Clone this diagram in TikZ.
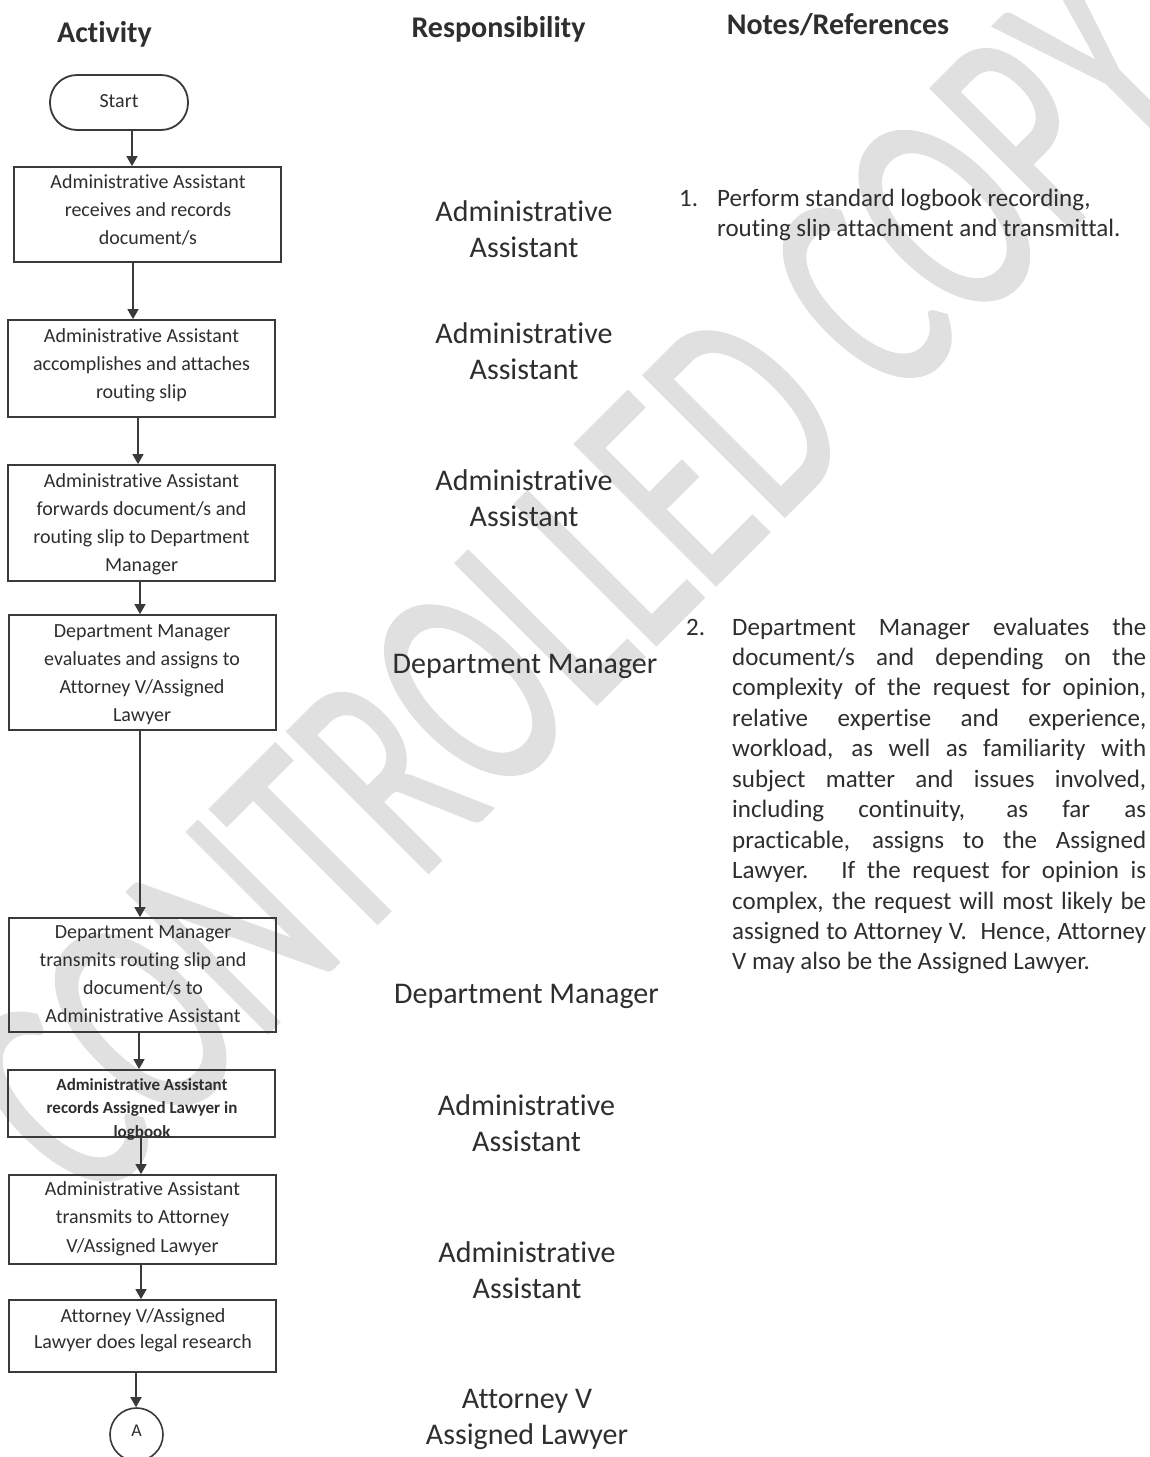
\documentclass[tikz,border=0pt]{standalone}
\usepackage{fontspec}
\setmainfont{Carlito}[Ligatures={NoCommon}]
\newfontfamily\markfont{Carlito}[FakeBold=1]
\usetikzlibrary{arrows.meta}

\definecolor{ink}{HTML}{2E2E2E}
\definecolor{frame}{HTML}{3A3A3A}
\definecolor{wmark}{HTML}{E0E0E0}

\begin{document}
\begin{tikzpicture}[x=1pt,y=-1pt,
  stepbox/.style={draw=frame, line width=1.8pt, minimum width=267pt, inner sep=0pt},
  boxtext/.style={inner sep=0pt, anchor=base, text=ink, font=\fontsize{20}{28.3}\selectfont},
  flow/.style={draw=frame, line width=1.5pt, -{Triangle[width=11pt,length=10pt]}},
  role/.style={inner sep=0pt, anchor=base, text=ink, font=\fontsize{30}{36}\selectfont},
  head/.style={inner sep=0pt, anchor=base, text=ink, font=\fontsize{30}{36}\selectfont\bfseries},
  note/.style={inner sep=0pt, anchor=base west, text=ink, font=\fontsize{25}{30.45}\selectfont},
]
\useasboundingbox (0,0) rectangle (1149,1457);
\fill[white] (0,0) rectangle (1149,1457);

% watermark behind everything: tall, narrow letters on the diagonal
\node[rotate=45, inner sep=0pt, text=wmark, font=\markfont\fontsize{200}{200}\selectfont] (wm) at (576,584) {\scalebox{1}[1.55]{CONTROLLED COPY}};

% column headings
\node[head] (hact) at (104.5,42) {Activity};
\node[head] (hresp) at (498.5,37) {Responsibility};
\node[head] (hnote) at (838,34) {Notes/References};

% flowchart shapes
\node[draw=frame, line width=1.8pt, rounded corners=27pt, minimum width=138pt, minimum height=55pt, inner sep=0pt] (start) at (119,102.5) {};
\node[boxtext, font=\fontsize{20}{24}\selectfont] (startt) at (119,107) {Start};

\node[stepbox, minimum height=95pt] (b1) at (147.5,214.5) {};
\node[stepbox, minimum height=97pt] (b2) at (141.5,368.5) {};
\node[stepbox, minimum height=116pt] (b3) at (141.5,523) {};
\node[stepbox, minimum height=115pt] (b4) at (142.5,672.5) {};
\node[stepbox, minimum height=114pt] (b5) at (142.5,975) {};
\node[stepbox, minimum height=67pt] (b6) at (141.5,1103.5) {};
\node[stepbox, minimum height=89pt] (b7) at (142.5,1219.5) {};
\node[stepbox, minimum height=72pt] (b8) at (142.5,1336) {};
\node[draw=frame, line width=1.6pt, circle, minimum size=53pt, inner sep=0pt] (conn) at (136.5,1434.5) {};

% box texts
\node[boxtext] (t1) at (148,188) {\parbox[t]{262pt}{\centering Administrative Assistant\\ receives and records\\ document/s}};
\node[boxtext] (t2) at (141.5,342) {\parbox[t]{262pt}{\centering Administrative Assistant\\ accomplishes and attaches\\ routing slip}};
\node[boxtext] (t3) at (141.5,487) {\parbox[t]{262pt}{\centering Administrative Assistant\\ forwards document/s and\\ routing slip to Department\\ Manager}};
\node[boxtext, font=\fontsize{20}{28}\selectfont] (t4) at (142,637) {\parbox[t]{262pt}{\centering Department Manager\\ evaluates and assigns to\\ Attorney V/Assigned\\ Lawyer}};
\node[boxtext] (t5) at (143,938) {\parbox[t]{262pt}{\centering Department Manager\\ transmits routing slip and\\ document/s to\\ Administrative Assistant}};
\node[boxtext, font=\fontsize{17}{23.5}\selectfont\bfseries] (t6) at (142,1090) {\parbox[t]{262pt}{\centering Administrative Assistant\\ records Assigned Lawyer in\\ logbook}};
\node[boxtext, font=\fontsize{20}{28.5}\selectfont] (t7) at (142.5,1195) {\parbox[t]{262pt}{\centering Administrative Assistant\\ transmits to Attorney\\ V/Assigned Lawyer}};
\node[boxtext, font=\fontsize{20}{26.5}\selectfont] (t8) at (143,1322) {\parbox[t]{262pt}{\centering Attorney V/Assigned\\ Lawyer does legal research}};
\node[boxtext, font=\fontsize{18}{20}\selectfont] (connt) at (136.5,1436) {A};

% connectors
\draw[flow] (start.south -| 132,0) -- (b1.north -| 132,0);
\draw[flow] (b1.south -| 133,0) -- (b2.north -| 133,0);
\draw[flow] (b2.south -| 138,0) -- (b3.north -| 138,0);
\draw[flow] (b3.south -| 140,0) -- (b4.north -| 140,0);
\draw[flow] (b4.south -| 140,0) -- (b5.north -| 140,0);
\draw[flow] (b5.south -| 139,0) -- (b6.north -| 139,0);
\draw[flow] (b6.south -| 141,0) -- (b7.north -| 141,0);
\draw[flow] (b7.south -| 141,0) -- (b8.north -| 141,0);
\draw[flow] (b8.south -| 136,0) -- (conn.north -| 136,0);

% responsibility column
\node[role] (r1) at (524,221) {\parbox[t]{300pt}{\centering Administrative\\ Assistant}};
\node[role] (r2) at (524,343) {\parbox[t]{300pt}{\centering Administrative\\ Assistant}};
\node[role] (r3) at (524,490) {\parbox[t]{300pt}{\centering Administrative\\ Assistant}};
\node[role] (r4) at (525,673) {Department Manager};
\node[role] (r5) at (526.5,1003) {Department Manager};
\node[role] (r6) at (526.5,1115) {\parbox[t]{300pt}{\centering Administrative\\ Assistant}};
\node[role] (r7) at (527,1262) {\parbox[t]{300pt}{\centering Administrative\\ Assistant}};
\node[role] (r8) at (527,1408) {\parbox[t]{300pt}{\centering Attorney V\\ Assigned Lawyer}};

% notes column
\node[note] (n1num) at (679,206) {1.};
\node[note] (n1) at (717,206) {\parbox[t]{430pt}{Perform standard logbook recording,\\ routing slip attachment and transmittal.}};
\node[note] (n2num) at (686,635) {2.};
\node[note] (n2) at (732,635) {\parbox[t]{414pt}{%
\makebox[414pt][s]{Department Manager evaluates the}\\
\makebox[414pt][s]{document/s and depending on the}\\
\makebox[414pt][s]{complexity of the request for opinion,}\\
\makebox[414pt][s]{relative expertise and experience,}\\
\makebox[414pt][s]{workload, as well as familiarity with}\\
\makebox[414pt][s]{subject matter and issues involved,}\\
\makebox[414pt][s]{including continuity, as far as}\\
\makebox[414pt][s]{practicable, assigns to the Assigned}\\
\makebox[414pt][s]{Lawyer.\hspace{0.3em} If the request for opinion is}\\
\makebox[414pt][s]{complex, the request will most likely be}\\
\makebox[414pt][s]{assigned to Attorney V.\hspace{0.3em} Hence, Attorney}\\
V may also be the Assigned Lawyer.}};
\end{tikzpicture}
\end{document}
